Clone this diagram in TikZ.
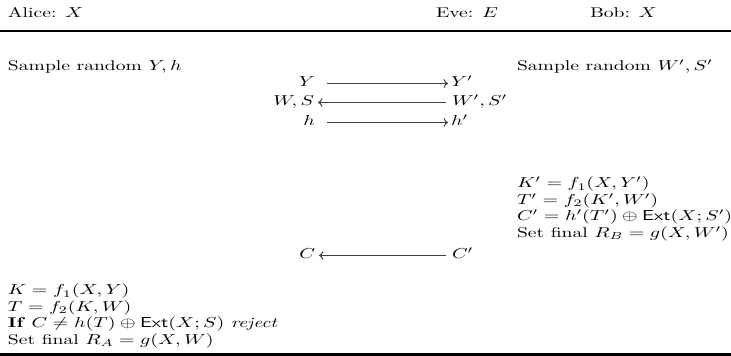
\documentclass[tikz,border=0pt]{standalone}
\usepackage{amsmath,amssymb}
\usetikzlibrary{arrows.meta}
\newcommand{\sq}[1]{\scalebox{1}[0.72]{#1}}
\tikzset{
  txt/.style={inner sep=0pt, outer sep=0pt, font=\fontsize{9.8pt}{12pt}\selectfont},
  lft/.style={txt, anchor=base west},
  rgt/.style={txt, anchor=base east},
  ctr/.style={txt, anchor=base},
  msg/.style={draw=black!75, line width=0.5pt, -{To[length=2.2pt,width=4.4pt]}},
  rulethick/.style={line width=1.1pt}
}
\begin{document}
\begin{tikzpicture}[x=0.5pt, y={(0pt,-0.5pt)}]
\useasboundingbox (0,0) rectangle (731,356);
% header
\node[lft] (alice) at (8,18) {\sq{Alice: $X$}};
\node[lft] (eve) at (436,18) {\sq{Eve: $E$}};
\node[lft] (bob) at (590,18) {\sq{Bob: $X$}};
\coordinate (r1l) at (0,31);
\coordinate (r1r) at (731,31);
\draw[rulethick] (r1l) -- (r1r);
% sampling
\node[lft] (sa) at (8,71) {\sq{Sample random $Y, h$}};
\node[lft] (sb) at (517,71) {\sq{Sample random $W', S'$}};
% messages
\node[rgt] (Y) at (315,87) {\sq{$Y$}};
\node[lft] (Yp) at (451,87) {\sq{$Y'$}};
\node[rgt] (WS) at (314,106) {\sq{$W, S$}};
\node[lft] (WSp) at (452,106) {\sq{$W', S'$}};
\node[rgt] (h) at (315,126) {\sq{$h$}};
\node[lft] (hp) at (451,126) {\sq{$h'$}};
\draw[msg] ([shift={(12,-3.5)}]Y.base east) -- ([shift={(-3,-3.5)}]Yp.base west);
\draw[msg] ([shift={(-6,-3.5)}]WSp.base west) -- ([shift={(4,-3.5)}]WS.base east);
\draw[msg] ([shift={(12,-3.5)}]h.base east) -- ([shift={(-3,-3.5)}]hp.base west);
% Bob computations
\node[lft] (b1) at (517,188) {\sq{$K' = f_1(X, Y')$}};
\node[lft] (b2) at (517,204.5) {\sq{$T' = f_2(K', W')$}};
\node[lft] (b3) at (517,221) {\sq{$C' = h'(T') \oplus \mathsf{Ext}(X; S')$}};
\node[lft] (b4) at (517,237.5) {\sq{Set final $R_B = g(X, W')$}};
% last message
\node[rgt] (C) at (315,259) {\sq{$C$}};
\node[lft] (Cp) at (452,259) {\sq{$C'$}};
\draw[msg] ([shift={(-6,-3.5)}]Cp.base west) -- ([shift={(4,-3.5)}]C.base east);
% Alice computations
\node[lft] (a1) at (8,295) {\sq{$K = f_1(X, Y)$}};
\node[lft] (a2) at (8,311.5) {\sq{$T = f_2(K, W)$}};
\node[lft] (a3) at (8,328) {\sq{\textbf{If} $C \neq h(T) \oplus \mathsf{Ext}(X; S)$ \textit{reject}}};
\node[lft] (a4) at (8,344.5) {\sq{Set final $R_A = g(X, W)$}};
\coordinate (r2l) at (0,354.5);
\coordinate (r2r) at (731,354.5);
\draw[rulethick] (r2l) -- (r2r);
\end{tikzpicture}
\end{document}
